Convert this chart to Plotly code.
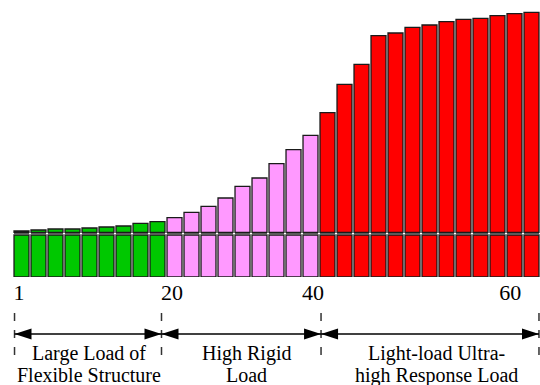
import plotly.graph_objects as go

# bar heights (top of each bar) for the three load groups
green_tops = [46, 47, 48, 48, 49, 50, 51, 53.7, 55.3]
pink_tops = [59.3, 64.7, 70.7, 79, 90.7, 99, 113.3, 127.3, 141.7]
red_tops = [164.3, 192.7, 212.7, 241.3, 244, 249.7, 252, 255.3, 257.7, 258.7, 261.3, 263.3, 264.7]

# common lower block and separator band
lower_top = 42
band_top = 44.7

# axis labels
tick_pos = [0.7, 18.7, 35.3, 58.5]
tick_text = ['1', '20', '40', '60']

# region boundaries and region names (two lines each)
bounds = [0.18, 17.47, 36.24, 61.88]
region_line1 = ['Large Load of', 'High Rigid', 'Light-load Ultra-']
region_line2 = ['Flexible Structure', 'Load', 'high Response Load']
region_x = [8.9, 27.5, 49.8]

serif = 'Liberation Serif, Times New Roman, serif'

colors = ['#00c800'] * len(green_tops) + ['#ff99ff'] * len(pink_tops) + ['#ff0000'] * len(red_tops)
tops = green_tops + pink_tops + red_tops
x = [1 + 2 * i for i in range(len(tops))]
bw = 1.76

fig = go.Figure()

# lower part of every bar
fig.add_trace(go.Bar(x=x, y=[lower_top] * len(x), base=0, width=bw,
                     marker=dict(color=colors, line=dict(color='#1a1a1a', width=1.3))))
# gray separator
fig.add_trace(go.Bar(x=x, y=[band_top - lower_top] * len(x), base=lower_top, width=bw,
                     marker=dict(color='#5a5a5a', line=dict(width=0))))
# upper part
fig.add_trace(go.Bar(x=x, y=[t - band_top for t in tops], base=band_top, width=bw,
                     marker=dict(color=colors, line=dict(color='#1a1a1a', width=1.3))))

H = 277.0  # plot height in px, used to turn pixel offsets into paper units
arrow_y = -57 / H
head_len = 2.0
head_h = 5.5 / H

for xb in bounds:
    # dashed vertical boundary
    fig.add_shape(type='line', xref='x', yref='paper', x0=xb, x1=xb, y0=-36 / H, y1=-86 / H,
                  line=dict(color='#333333', width=1.5, dash='8px,9px'))

for i in range(len(bounds) - 1):
    a, b = bounds[i], bounds[i + 1]
    fig.add_shape(type='line', xref='x', yref='paper', x0=a, x1=b, y0=arrow_y, y1=arrow_y,
                  line=dict(color='black', width=1.5))
    # arrow heads at both ends
    fig.add_shape(type='path', xref='x', yref='paper', fillcolor='black', line=dict(width=0),
                  path=f'M{a},{arrow_y} L{a + head_len},{arrow_y + head_h} L{a + head_len},{arrow_y - head_h} Z')
    fig.add_shape(type='path', xref='x', yref='paper', fillcolor='black', line=dict(width=0),
                  path=f'M{b},{arrow_y} L{b - head_len},{arrow_y + head_h} L{b - head_len},{arrow_y - head_h} Z')
    fig.add_annotation(x=region_x[i], y=-76 / H, xref='x', yref='paper', text=region_line1[i],
                       showarrow=False, yanchor='middle',
                       font=dict(family=serif, size=20, color='black'))
    fig.add_annotation(x=region_x[i], y=-98 / H, xref='x', yref='paper', text=region_line2[i],
                       showarrow=False, yanchor='middle',
                       font=dict(family=serif, size=20, color='black'))

fig.update_layout(
    width=540, height=385,
    margin=dict(l=13, r=0, t=0, b=108),
    plot_bgcolor='white', paper_bgcolor='white',
    barmode='overlay', showlegend=False,
    xaxis=dict(range=[0, 62], showgrid=False, zeroline=False, showline=False, ticks='',
               tickvals=tick_pos, ticktext=tick_text,
               tickfont=dict(family=serif, size=22, color='black')),
    yaxis=dict(range=[0, H], visible=False, showgrid=False, zeroline=False),
)

# page margin off so the figure sits at the window corner
fig.write_html("out.html", config={'displayModeBar': False},
               post_script="document.body.style.margin='0';")
